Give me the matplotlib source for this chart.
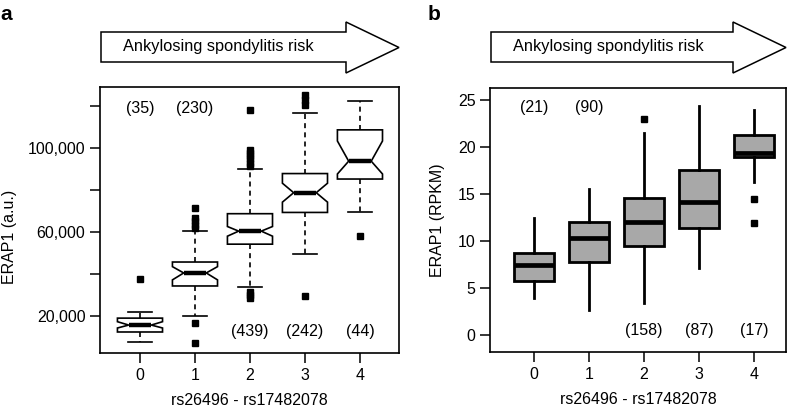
import matplotlib
matplotlib.use("Agg")
import matplotlib.pyplot as plt
import numpy as np
from matplotlib.patches import Polygon

plt.rcParams["font.family"] = ["Liberation Sans", "DejaVu Sans"]
plt.rcParams["font.size"] = 11.5

groups = [0, 1, 2, 3, 4]

# panel a: ERAP1 protein (a.u.), notched boxes
a_q1 = [12400, 34300, 54200, 69300, 85200]
a_med = [15700, 40500, 60400, 78700, 93700]
a_q3 = [19000, 45700, 68700, 87800, 108600]
a_whislo = [7600, 20000, 33700, 49600, 69400]
a_whishi = [21900, 60700, 90000, 116600, 122100]
a_cilo = [14300, 37200, 58000, 74200, 87600]
a_cihi = [17300, 43500, 62600, 83200, 103300]
a_fliers = [
    [37500],
    [71500, 66500, 65000, 63500, 62000, 16700, 7000],
    [118000, 99000, 97500, 96000, 94500, 93000, 91500, 31500, 30000, 28500],
    [125200, 122900, 120500, 29500],
    [58300],
]
a_counts_top = ["(35)", "(230)"]
a_counts_bottom = ["(439)", "(242)", "(44)"]
a_yticks = [20000, 40000, 60000, 80000, 100000, 120000]
a_yticklabels = ["20,000", "", "60,000", "", "100,000", ""]

# panel b: ERAP1 RNA (RPKM)
b_q1 = [5.8, 7.8, 9.45, 11.4, 18.95]
b_med = [7.45, 10.35, 12.0, 14.15, 19.4]
b_q3 = [8.8, 12.1, 14.65, 17.55, 21.25]
b_whislo = [3.95, 2.7, 3.45, 7.15, 16.3]
b_whishi = [12.5, 15.6, 21.5, 24.4, 24.0]
b_fliers = [[], [], [23.05], [], [14.5, 11.9]]
b_counts_top = ["(21)", "(90)"]
b_counts_bottom = ["(158)", "(87)", "(17)"]
b_yticks = [0, 5, 10, 15, 20, 25]

W, H = 788, 411
FS = 11.5


def make_stats(q1, med, q3, lo, hi, fliers, cilo=None, cihi=None):
    stats = []
    for i in range(len(med)):
        d = dict(q1=q1[i], med=med[i], q3=q3[i], whislo=lo[i], whishi=hi[i],
                 fliers=np.array(fliers[i], dtype=float))
        if cilo is not None:
            d["cilo"] = cilo[i]
            d["cihi"] = cihi[i]
        stats.append(d)
    return stats


def style_axes(ax):
    for s in ax.spines.values():
        s.set_linewidth(1.2)
    ax.tick_params(direction="out", length=7.5, width=1.1, pad=3, labelsize=FS)


def draw_arrow(fig, ax, text):
    pos = ax.get_position()
    x0 = pos.x0 * W + 1
    x1 = pos.x1 * W
    xh = x1 - 53
    pts = [(x0, 32), (xh, 32), (xh, 22), (x1, 47.5), (xh, 73), (xh, 62), (x0, 62)]
    pts = [(x / W, 1 - y / H) for x, y in pts]
    fig.add_artist(Polygon(pts, closed=True, facecolor="white", edgecolor="black",
                           linewidth=1.1, transform=fig.transFigure))
    fig.text((x0 + 22) / W, 1 - 47 / H, text, fontsize=11.8, va="center", ha="left")


fig = plt.figure(figsize=(W / 100, H / 100), dpi=100)
ax_a = fig.add_axes([100 / W, (H - 353) / H, 299 / W, 266 / H])
ax_b = fig.add_axes([490 / W, (H - 352) / H, 296 / W, 264 / H])

flier_style = dict(marker="s", markerfacecolor="black", markeredgecolor="black",
                   markersize=4.5, linestyle="none")

# panel a
ax_a.bxp(make_stats(a_q1, a_med, a_q3, a_whislo, a_whishi, a_fliers, a_cilo, a_cihi),
         positions=groups, widths=0.82, capwidths=0.44, shownotches=True,
         patch_artist=True,
         boxprops=dict(facecolor="white", edgecolor="black", linewidth=1.2),
         whiskerprops=dict(color="black", linewidth=1.2, linestyle=(0, (3, 2.5))),
         capprops=dict(color="black", linewidth=1.2),
         medianprops=dict(color="black", linewidth=3.2, solid_capstyle="butt"),
         flierprops=flier_style)
ax_a.set_xlim(-0.727, 4.71)
ax_a.set_ylim(2400, 129000)
ax_a.set_xticks(groups)
ax_a.set_xticklabels([str(g) for g in groups])
ax_a.set_yticks(a_yticks)
ax_a.set_yticklabels(a_yticklabels)
for g, t in zip(groups[:2], a_counts_top):
    ax_a.text(g, 118600, t, ha="center", va="center", fontsize=FS)
for g, t in zip(groups[2:], a_counts_bottom):
    ax_a.text(g, 12400, t, ha="center", va="center", fontsize=FS)
ax_a.set_ylabel("ERAP1 (a.u.)", fontsize=FS)
ax_a.yaxis.set_label_coords(-0.278, 0.436)
ax_a.set_xlabel("rs26496 - rs17482078", fontsize=FS)
ax_a.xaxis.set_label_coords(0.5, -0.15)
style_axes(ax_a)

# panel b
ax_b.bxp(make_stats(b_q1, b_med, b_q3, b_whislo, b_whishi, b_fliers),
         positions=groups, widths=0.74, showcaps=False, patch_artist=True,
         boxprops=dict(facecolor="#a8a8a8", edgecolor="black", linewidth=2.0),
         whiskerprops=dict(color="black", linewidth=2.0),
         medianprops=dict(color="black", linewidth=3.4, solid_capstyle="butt"),
         flierprops=flier_style)
ax_b.set_xlim(-0.8, 4.58)
ax_b.set_ylim(-1.77, 26.3)
ax_b.set_xticks(groups)
ax_b.set_xticklabels([str(g) for g in groups])
ax_b.set_yticks(b_yticks)
for g, t in zip(groups[:2], b_counts_top):
    ax_b.text(g, 24.2, t, ha="center", va="center", fontsize=FS)
for g, t in zip(groups[2:], b_counts_bottom):
    ax_b.text(g, 0.5, t, ha="center", va="center", fontsize=FS)
ax_b.set_ylabel("ERAP1 (RPKM)", fontsize=FS)
ax_b.yaxis.set_label_coords(-0.152, 0.5)
ax_b.set_xlabel("rs26496 - rs17482078", fontsize=FS)
ax_b.xaxis.set_label_coords(0.5, -0.15)
style_axes(ax_b)

draw_arrow(fig, ax_a, "Ankylosing spondylitis risk")
draw_arrow(fig, ax_b, "Ankylosing spondylitis risk")

fig.text(0 / W, 1 - 14 / H, "a", fontsize=15, fontweight="bold", va="center", ha="left")
fig.text(428 / W, 1 - 14 / H, "b", fontsize=15, fontweight="bold", va="center", ha="left")

fig.savefig("out.png", dpi=100)
